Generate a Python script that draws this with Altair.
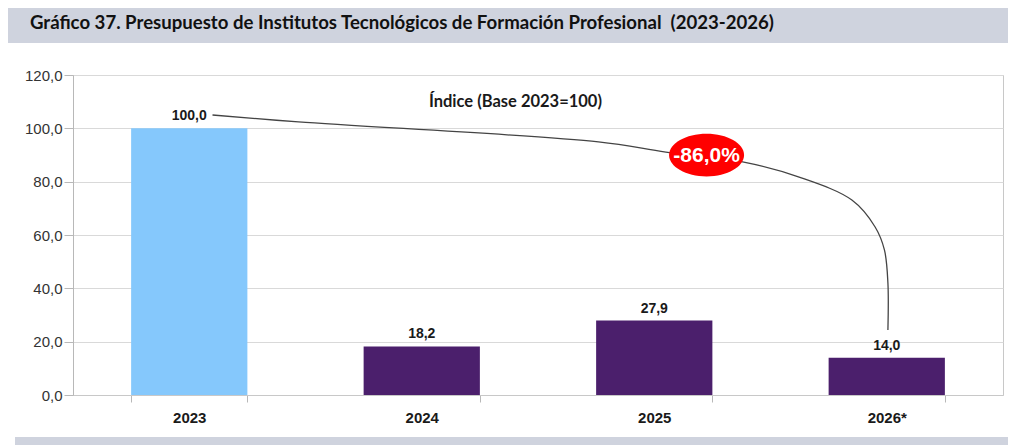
import altair as alt
import pandas as pd

# ---- data ----
years = ["2023", "2024", "2025", "2026*"]
values = [100.0, 18.2, 27.9, 14.0]
bar_colors = ["#85C8FC", "#4B1F6C", "#4B1F6C", "#4B1F6C"]
y_ticks = [0, 20, 40, 60, 80, 100, 120]

title_text = "Gráfico 37. Presupuesto de Institutos Tecnológicos de Formación Profesional \u00a0(2023-2026)"
subtitle_text = "Índice (Base 2023=100)"
change_label = "-86,0%"

# connector path (x in category units 0..4, y in index units)
conn_x = [0.60, 0.97, 2.26, 2.55, 2.88, 3.12, 3.35, 3.45, 3.49, 3.505, 3.505]
conn_y = [105.0, 102.4, 94.9, 91.1, 87.4, 81.8, 73.1, 63.0, 54.4, 42.0, 24.4]
bubble_x = [2.725]
bubble_y = [90.0]
subtitle_x = [1.903]
subtitle_y = [109.9]

band_color = "#CFD3DE"

bars_df = pd.DataFrame({
    "year": years,
    "value": values,
    "label": [f"{v:.1f}".replace(".", ",") for v in values],
})
conn_df = pd.DataFrame({"cx": conn_x, "value": conn_y, "i": list(range(len(conn_x)))})
bubble_df = pd.DataFrame({"cx": bubble_x, "value": bubble_y, "t": [change_label]})
sub_df = pd.DataFrame({"cx": subtitle_x, "value": subtitle_y, "t": [subtitle_text]})
one = pd.DataFrame({"a": [0]})

y_axis = alt.Axis(
    values=y_ticks, title=None,
    labelExpr="replace(format(datum.value, '.1f'), '.', ',')",
    labelFont="Liberation Sans", labelFontSize=15, labelColor="#333333",
    tickSize=9, tickColor="#b8b8b8", domainColor="#b8b8b8",
    gridColor="#d9d9d9", labelPadding=2,
)
y_enc = alt.Y("value:Q", scale=alt.Scale(domain=[0, 120], nice=False), axis=y_axis)

x_scale = alt.Scale(paddingInner=0.5, paddingOuter=0.25)
x_enc = alt.X(
    "year:N", sort=years, scale=x_scale,
    axis=alt.Axis(
        title=None, labelAngle=0, labelFont="Liberation Sans",
        labelFontWeight="bold", labelFontSize=15, labelColor="#1a1a1a",
        tickBand="extent", tickSize=7, tickColor="#b8b8b8",
        domainColor="#c8c8c8", labelPadding=8, grid=False,
    ),
)
xq = alt.X("cx:Q", scale=alt.Scale(domain=[0, 4], nice=False, zero=False), axis=None)

bars = alt.Chart(bars_df).mark_bar().encode(
    x=x_enc, y=y_enc,
    color=alt.Color("year:N", scale=alt.Scale(domain=years, range=bar_colors), legend=None),
)
bar_labels = alt.Chart(bars_df).mark_text(
    baseline="alphabetic", dy=-8, font="Liberation Sans", fontSize=14,
    fontWeight="bold", color="#1a1a1a",
).encode(x=alt.X("year:N", sort=years, scale=x_scale, axis=None), y=y_enc, text="label:N")

connector = alt.Chart(conn_df).mark_line(
    interpolate="catmull-rom", color="#444444", strokeWidth=1.3
).encode(x=xq, y=y_enc, order="i:O")

bubble = alt.Chart(bubble_df).mark_point(
    shape="M-1,0A1,0.57,0,1,0,1,0A1,0.57,0,1,0,-1,0Z",
    size=75 * 75, filled=True, color="#FF0000", opacity=1, strokeWidth=0,
).encode(x=xq, y=y_enc)
bubble_text = alt.Chart(bubble_df).mark_text(
    font="Liberation Sans", fontSize=21, fontWeight="bold", color="white",
    baseline="middle", dy=1,
).encode(x=xq, y=y_enc, text="t:N")

subtitle = alt.Chart(sub_df).mark_text(
    font="Lato", fontSize=16.5, fontWeight="bold", color="#1a1a1a", baseline="middle",
).encode(x=xq, y=y_enc, text="t:N")

top_band = alt.Chart(one).mark_rect(color=band_color).encode(
    x=alt.value(-65), x2=alt.value(935), y=alt.value(-67), y2=alt.value(-32)
)
bottom_band = alt.Chart(one).mark_rect(color=band_color).encode(
    x=alt.value(-58), x2=alt.value(935), y=alt.value(362), y2=alt.value(372)
)
title = alt.Chart(one).mark_text(
    align="left", baseline="middle", font="Lato", fontSize=18.6,
    fontWeight="bold", color="#111111",
).encode(x=alt.value(-43), y=alt.value(-52), text=alt.value(title_text))

chart = alt.layer(
    top_band, bottom_band, title,
    bars, bar_labels, connector, bubble, bubble_text, subtitle,
).resolve_scale(x="independent", color="independent").properties(
    width=930, height=320,
    padding={"left": 65, "top": 67, "right": 5, "bottom": 50},
    autosize=alt.AutoSizeParams(type="none"),
    background="white",
).configure_view(stroke="#c8c8c8", strokeWidth=1)

chart.save("out.html", embed_options={"renderer": "svg", "actions": False})
